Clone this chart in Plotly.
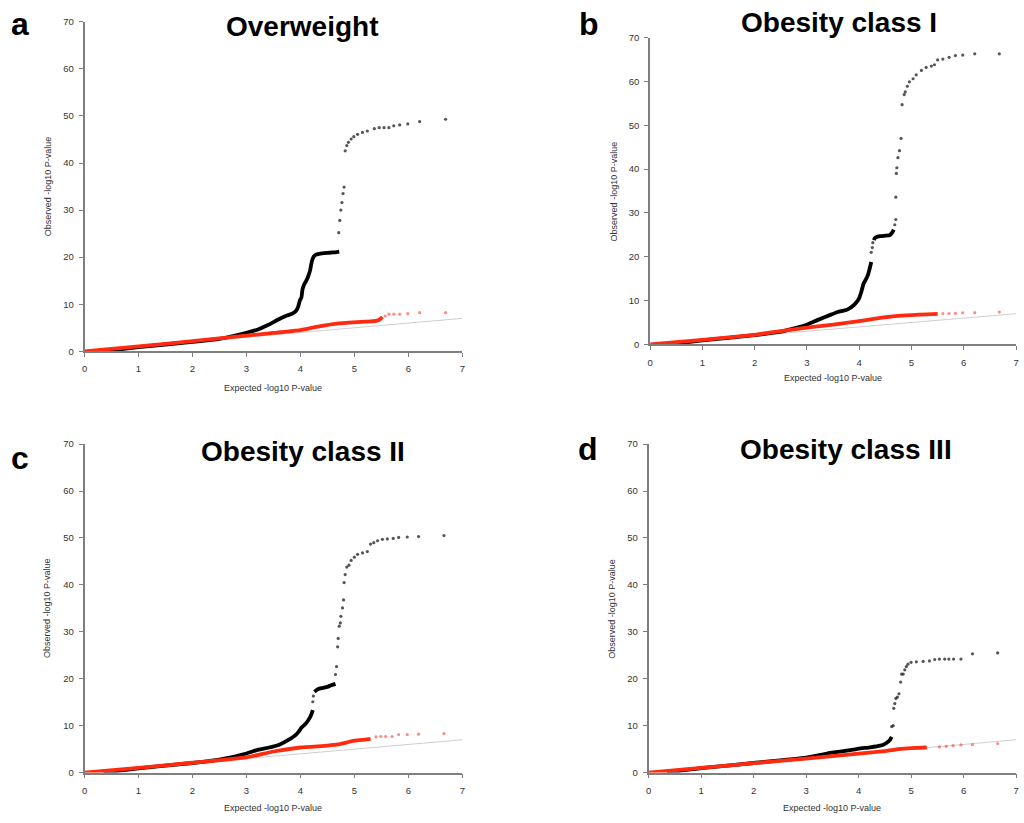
import plotly.graph_objects as go

W, H = 1024, 823
FONT = "Liberation Sans, Arial, sans-serif"

# ---------------- data ----------------
# Panel a: Overweight
a_black_x = [0.35, 1.0, 2.0, 2.5, 3.0, 3.2, 3.4, 3.6, 3.75, 3.85, 3.92, 3.96, 3.99, 4.02, 4.04, 4.07, 4.1, 4.14, 4.18, 4.21, 4.24, 4.28, 4.35, 4.5, 4.6, 4.72]
a_black_y = [0.0, 0.9, 2.0, 2.65, 3.95, 4.6, 5.6, 6.8, 7.6, 8.0, 8.6, 9.5, 10.8, 11.5, 13.2, 14.2, 14.8, 15.8, 17.2, 19.0, 20.0, 20.5, 20.7, 20.9, 21.0, 21.2]
a_tail_x = [4.71, 4.73, 4.75, 4.77, 4.79, 4.81, 4.83, 4.86, 4.89, 4.94, 4.99, 5.06, 5.15, 5.24, 5.37, 5.46, 5.55, 5.64, 5.73, 5.84, 5.99, 6.21, 6.69]
a_tail_y = [25.2, 27.8, 30.0, 31.6, 33.5, 34.9, 42.6, 43.7, 44.4, 45.1, 45.6, 46.1, 46.5, 46.8, 47.3, 47.5, 47.5, 47.5, 47.9, 48.1, 48.3, 48.8, 49.3]
a_red_x = [0.0, 1.0, 2.0, 3.0, 3.5, 4.0, 4.3, 4.6, 4.9, 5.2, 5.4, 5.48, 5.52]
a_red_y = [0.0, 1.05, 2.15, 3.35, 3.9, 4.5, 5.2, 5.8, 6.1, 6.3, 6.45, 6.85, 7.3]
a_redtail_x = [5.57, 5.64, 5.73, 5.84, 5.99, 6.21, 6.69]
a_redtail_y = [7.5, 7.9, 7.9, 7.9, 8.0, 8.2, 8.2]

# Panel b: Obesity class I
b_black_x = [0.35, 1.0, 2.0, 2.5, 3.0, 3.21, 3.46, 3.59, 3.7, 3.78, 3.9, 3.96, 4.0, 4.04, 4.08, 4.13, 4.17, 4.2, 4.23]
b_black_y = [0.0, 0.9, 2.1, 2.9, 4.5, 5.6, 6.8, 7.4, 7.7, 8.0, 9.0, 9.8, 10.6, 12.0, 13.8, 14.9, 16.0, 17.3, 18.8]
b_plat_x = [4.28, 4.3, 4.39, 4.5, 4.58, 4.63, 4.66]
b_plat_y = [23.8, 24.3, 24.7, 24.8, 24.9, 25.5, 26.2]
b_tail_x = [4.23, 4.25, 4.26, 4.68, 4.7, 4.7, 4.71, 4.72, 4.74, 4.77, 4.8, 4.82, 4.86, 4.88, 4.92, 4.96, 5.03, 5.09, 5.19, 5.28, 5.38, 5.44, 5.5, 5.6, 5.72, 5.84, 5.98, 6.21, 6.68]
b_tail_y = [21.0, 22.1, 23.2, 27.3, 28.5, 33.6, 39.0, 40.3, 42.6, 44.2, 47.0, 54.7, 57.0, 57.6, 58.9, 59.9, 60.6, 61.5, 62.5, 63.2, 63.5, 63.8, 64.9, 65.1, 65.5, 65.9, 66.0, 66.3, 66.3]
b_red_x = [0.0, 1.0, 2.0, 3.0, 3.5, 4.0, 4.5, 4.8, 5.0, 5.3, 5.5]
b_red_y = [0.0, 1.05, 2.2, 3.85, 4.5, 5.3, 6.2, 6.55, 6.7, 6.85, 6.95]
b_redtail_x = [5.6, 5.72, 5.84, 5.98, 6.21, 6.68]
b_redtail_y = [7.05, 7.05, 7.1, 7.2, 7.25, 7.4]

# Panel c: Obesity class II
c_black_x = [0.35, 1.0, 2.0, 2.5, 3.0, 3.22, 3.4, 3.62, 3.77, 3.92, 3.98, 4.02, 4.07, 4.11, 4.17, 4.21, 4.23]
c_black_y = [0.0, 0.9, 2.05, 2.75, 4.07, 4.9, 5.3, 6.0, 6.9, 8.1, 8.9, 9.6, 10.1, 10.6, 11.6, 12.6, 13.3]
c_plat_x = [4.26, 4.3, 4.35, 4.48, 4.57, 4.65]
c_plat_y = [17.2, 17.6, 17.9, 18.2, 18.6, 18.9]
c_tail_x = [4.23, 4.24, 4.65, 4.67, 4.69, 4.7, 4.72, 4.74, 4.75, 4.78, 4.8, 4.81, 4.83, 4.86, 4.9, 4.94, 5.0, 5.06, 5.15, 5.24, 5.3, 5.36, 5.43, 5.52, 5.61, 5.72, 5.82, 5.98, 6.19, 6.66]
c_tail_y = [15.1, 16.3, 20.9, 22.6, 26.8, 28.6, 31.2, 31.9, 33.3, 35.1, 36.8, 40.5, 42.2, 43.8, 44.2, 45.2, 45.9, 46.5, 46.8, 47.1, 48.7, 49.0, 49.4, 49.7, 49.8, 49.9, 50.1, 50.2, 50.3, 50.5]
c_red_x = [0.0, 1.0, 2.0, 3.0, 3.5, 4.0, 4.5, 4.7, 5.0, 5.2, 5.3]
c_red_y = [0.0, 1.0, 2.1, 3.25, 4.5, 5.35, 5.75, 6.0, 6.8, 7.05, 7.2]
c_redtail_x = [5.4, 5.49, 5.58, 5.7, 5.82, 5.98, 6.19, 6.66]
c_redtail_y = [7.6, 7.7, 7.7, 7.7, 8.1, 8.1, 8.2, 8.3]

# Panel d: Obesity class III
d_black_x = [0.35, 1.0, 2.0, 3.0, 3.4, 3.71, 3.9, 4.0, 4.22, 4.41, 4.47, 4.53, 4.6, 4.63]
d_black_y = [0.0, 0.95, 2.05, 3.2, 4.07, 4.56, 4.9, 5.1, 5.4, 5.75, 5.96, 6.3, 7.0, 7.6]
d_tail_x = [4.63, 4.66, 4.67, 4.69, 4.71, 4.74, 4.77, 4.8, 4.82, 4.85, 4.88, 4.91, 4.94, 5.0, 5.1, 5.23, 5.35, 5.45, 5.54, 5.64, 5.72, 5.81, 5.95, 6.17, 6.65]
d_tail_y = [9.8, 10.0, 13.7, 14.7, 15.8, 16.1, 16.8, 19.3, 21.0, 21.0, 21.9, 22.6, 23.1, 23.5, 23.6, 23.7, 23.8, 24.1, 24.2, 24.2, 24.2, 24.2, 24.2, 25.3, 25.5]
d_red_x = [0.0, 1.0, 2.0, 3.0, 3.5, 4.0, 4.5, 4.8, 5.0, 5.3]
d_red_y = [0.0, 1.0, 2.0, 3.0, 3.5, 4.05, 4.6, 5.05, 5.2, 5.35]
d_redtail_x = [5.54, 5.67, 5.8, 5.95, 6.17, 6.65]
d_redtail_y = [5.47, 5.6, 5.75, 5.9, 5.96, 6.2]

titles = ["Overweight", "Obesity class I", "Obesity class II", "Obesity class III"]
letters = ["a", "b", "c", "d"]
diag = [0, 7]
x_ticks = [0, 1, 2, 3, 4, 5, 6, 7]
y_ticks = [0, 10, 20, 30, 40, 50, 60, 70]
x_title = "Expected -log10 P-value"
y_title = "Observed -log10 P-value"

panels = [
    dict(black=[(a_black_x, a_black_y)], tail=(a_tail_x, a_tail_y), red=(a_red_x, a_red_y), redtail=(a_redtail_x, a_redtail_y)),
    dict(black=[(b_black_x, b_black_y), (b_plat_x, b_plat_y)], tail=(b_tail_x, b_tail_y), red=(b_red_x, b_red_y), redtail=(b_redtail_x, b_redtail_y)),
    dict(black=[(c_black_x, c_black_y), (c_plat_x, c_plat_y)], tail=(c_tail_x, c_tail_y), red=(c_red_x, c_red_y), redtail=(c_redtail_x, c_redtail_y)),
    dict(black=[(d_black_x, d_black_y)], tail=(d_tail_x, d_tail_y), red=(d_red_x, d_red_y), redtail=(d_redtail_x, d_redtail_y)),
]

# ---------------- layout geometry (pixels) ----------------
boxes = [(82, 462, 16, 350), (651, 1019, 32, 343), (82, 462, 444, 777), (649.5, 1019, 444, 777)]
title_pos = [(301, 21), (841, 17), (302, 452), (848, 450)]
letter_pos = [(17, 18), (589, 18), (17, 458), (588, 449)]
xtitle_y = [387, 377, 813, 813]
ytitle_x = [45, 615, 45, 613]

fig = go.Figure()
layout = dict(width=W, height=H, margin=dict(l=0, r=0, t=0, b=0),
              paper_bgcolor="white", plot_bgcolor="white", showlegend=False,
              font=dict(family=FONT, color="#333333"))
annotations = []

for i, p in enumerate(panels):
    n = "" if i == 0 else str(i + 1)
    xa, ya = "x" + n, "y" + n
    L, R, T, B = boxes[i]
    layout["xaxis" + n] = dict(domain=[L / W, R / W], range=[0, 7], anchor=ya,
                               tickvals=x_ticks, ticks="outside", ticklen=4, tickwidth=1,
                               tickcolor="#7f7f7f", showline=True, linecolor="#7f7f7f", linewidth=1.5,
                               showgrid=False, zeroline=False, fixedrange=True,
                               tickfont=dict(size=9.5, color="#333333"), ticklabelstandoff=4)
    layout["yaxis" + n] = dict(domain=[1 - B / H, 1 - T / H], range=[0, 70], anchor=xa,
                               tickvals=y_ticks, ticks="outside", ticklen=4, tickwidth=1,
                               tickcolor="#7f7f7f", showline=True, linecolor="#7f7f7f", linewidth=1.8,
                               showgrid=False, zeroline=False, fixedrange=True,
                               tickfont=dict(size=9.5, color="#333333"), ticklabelstandoff=3)
    fig.add_trace(go.Scatter(x=diag, y=diag, mode="lines", xaxis=xa, yaxis=ya,
                             line=dict(color="#cfcfcf", width=1), hoverinfo="skip", cliponaxis=False))
    for bx, by in p["black"]:
        fig.add_trace(go.Scatter(x=bx, y=by, mode="lines", xaxis=xa, yaxis=ya,
                                 line=dict(color="black", width=3.8, shape="spline", smoothing=0.4),
                                 cliponaxis=False))
    fig.add_trace(go.Scatter(x=p["tail"][0], y=p["tail"][1], mode="markers", xaxis=xa, yaxis=ya,
                             marker=dict(symbol="circle", size=3.2, color="rgba(30,30,30,0.75)", line=dict(width=0)),
                             cliponaxis=False))
    fig.add_trace(go.Scatter(x=p["red"][0], y=p["red"][1], mode="lines", xaxis=xa, yaxis=ya,
                             line=dict(color="#ff2a10", width=3.8, shape="spline", smoothing=0.4),
                             cliponaxis=False))
    fig.add_trace(go.Scatter(x=p["redtail"][0], y=p["redtail"][1], mode="markers", xaxis=xa, yaxis=ya,
                             marker=dict(symbol="circle", size=3.2, color="rgba(255,60,60,0.6)", line=dict(width=0)),
                             cliponaxis=False))

    tx, ty = title_pos[i]
    annotations.append(dict(text="<b>%s</b>" % titles[i], x=tx / W, y=1 - ty / H, xref="paper", yref="paper",
                            xanchor="center", yanchor="middle", showarrow=False,
                            font=dict(size=28, color="black", family=FONT)))
    lx, ly = letter_pos[i]
    annotations.append(dict(text="<b>%s</b>" % letters[i], x=lx / W, y=1 - ly / H, xref="paper", yref="paper",
                            xanchor="center", yanchor="middle", showarrow=False,
                            font=dict(size=32, color="black", family=FONT)))
    annotations.append(dict(text=x_title, x=(L + R) / 2 / W, y=1 - xtitle_y[i] / H, xref="paper", yref="paper",
                            xanchor="center", yanchor="middle", showarrow=False,
                            font=dict(size=9, color="#333333", family=FONT)))
    annotations.append(dict(text=y_title, x=ytitle_x[i] / W, y=1 - (T + B) / 2 / H, xref="paper", yref="paper",
                            xanchor="center", yanchor="middle", showarrow=False, textangle=-90,
                            font=dict(size=9, color="#333333", family=FONT)))

layout["annotations"] = annotations
fig.update_layout(**layout)
fig.write_html("out.html")
